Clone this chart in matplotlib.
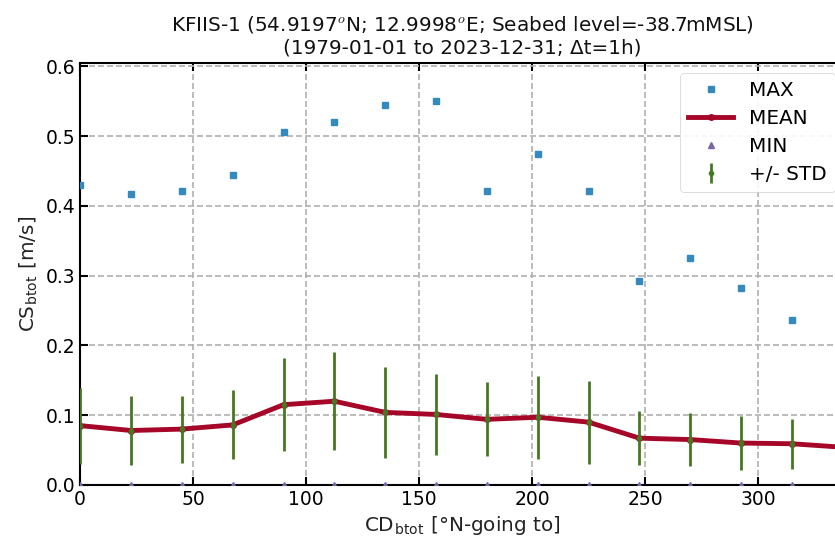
import numpy as np
import matplotlib
matplotlib.use("Agg")
import matplotlib.pyplot as plt

plt.style.use("bmh")

# Direction bins (deg, going-to) and current speed statistics [m/s]
directions = [0, 22.5, 45, 67.5, 90, 112.5, 135, 157.5, 180, 202.5, 225, 247.5, 270, 292.5, 315, 337.5]
cs_max = [0.430, 0.417, 0.421, 0.445, 0.506, 0.521, 0.545, 0.550, 0.422, 0.474, 0.421, 0.293, 0.325, 0.282, 0.237, 0.230]
cs_mean = [0.085, 0.078, 0.080, 0.086, 0.115, 0.120, 0.104, 0.101, 0.094, 0.097, 0.090, 0.067, 0.065, 0.060, 0.059, 0.054]
cs_min = [0.0] * 16
cs_std = [0.0545, 0.0495, 0.048, 0.0495, 0.067, 0.0705, 0.065, 0.0575, 0.053, 0.0595, 0.0595, 0.0385, 0.038, 0.0385, 0.036, 0.035]

title = ("KFIIS-1 (54.9197$^o$N; 12.9998$^o$E; Seabed level=-38.7mMSL)\n"
         "(1979-01-01 to 2023-12-31; \u0394t=1h)")

fig = plt.figure(figsize=(8.35, 5.43), dpi=100, facecolor="white")
ax = fig.add_axes([0.096, 0.107, 0.916, 0.777])
ax.set_facecolor("white")

ax.plot(directions, cs_max, "s", color="#348ABD", markersize=5, label="MAX", zorder=3)
ax.plot(directions, cs_mean, "-o", color="#A60628", linewidth=3.5, markersize=4, label="MEAN", zorder=4)
ax.plot(directions, cs_min, "^", color="#7A68A6", markersize=5, label="MIN", zorder=3)
ax.errorbar(directions, cs_mean, yerr=cs_std, fmt=".", color="#467821", ecolor="#467821",
            elinewidth=2, markersize=6, capsize=0, label="+/- STD", zorder=5)

ax.set_xlim(0, 338.5)
ax.set_ylim(0, 0.605)
ax.set_xticks([0, 50, 100, 150, 200, 250, 300])
ax.set_yticks([0.0, 0.1, 0.2, 0.3, 0.4, 0.5, 0.6])

ax.grid(True, linestyle=(0, (3.6, 1.8)), color="#b0b0b0", linewidth=1.2)
for s in ax.spines.values():
    s.set_color("black")
    s.set_linewidth(1.5)
ax.tick_params(direction="in", length=6, width=1.5, labelsize=13.5, colors="black",
               top=True, right=True)

ax.set_xlabel("CD$_{\\mathregular{btot}}$ [°N-going to]", fontsize=14.4, color="#222222")
ax.set_ylabel("CS$_{\\mathregular{btot}}$ [m/s]", fontsize=14.4, color="#222222")
ax.set_title(title, fontsize=14.4, color="#111111", pad=7)

leg = ax.legend(loc="upper right", fontsize=14.4, frameon=True, framealpha=0.9,
                borderpad=0.4, labelspacing=0.45, handlelength=2.25)
leg.get_frame().set_edgecolor("#cccccc")
leg.get_frame().set_facecolor("white")

fig.savefig("out.png", dpi=100, facecolor="white")
